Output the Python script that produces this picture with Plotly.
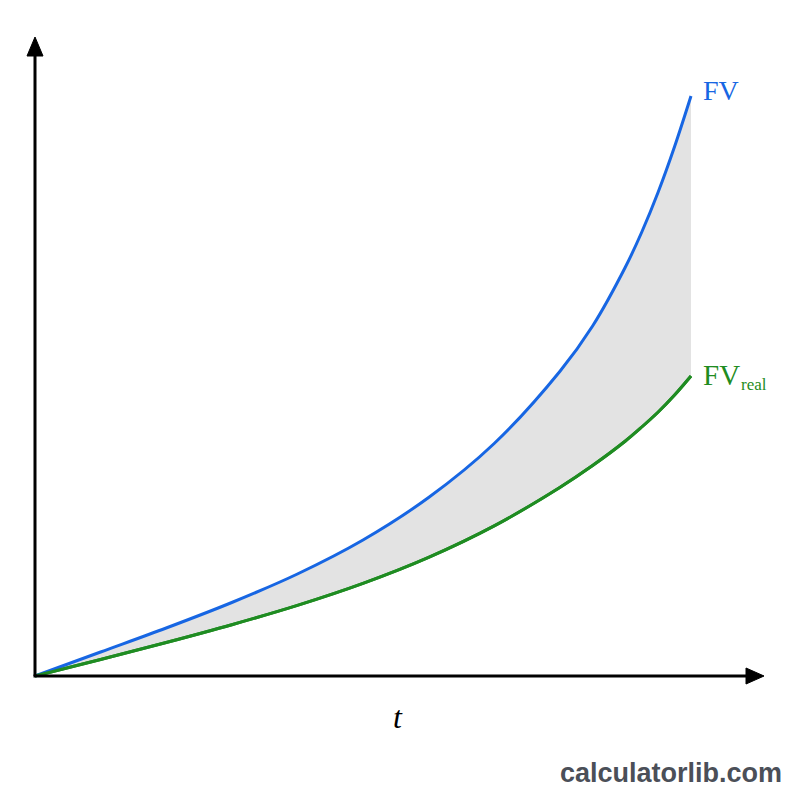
import plotly.graph_objects as go

# Data (time units, arbitrary value units)
t = [0, 1, 2, 3, 4, 5, 6, 7, 8, 8.5, 9, 9.25, 9.5, 9.75, 10]
fv = [0, 24, 48, 73.5, 102, 136, 178.5, 232.5, 304.5, 350, 409, 444, 484, 529.5, 580]
fv_real = [0, 16.5, 33.5, 51.3, 70.6, 92.6, 118.6, 150.1, 188.6, 210.5, 235, 249, 264, 281, 300]

BLUE = "#1766e3"
GREEN = "#1f8c22"
FILL = "#e3e3e3"

# pixel mapping helpers (layout only)
PX_T = 65.6          # pixels per time unit
X0, Y0 = 35, 676     # origin in pixels
def px_to_t(px):
    return (px - X0) / PX_T
def py_to_v(py):
    return Y0 - py

fig = go.Figure()
fig.add_trace(go.Scatter(x=t, y=fv_real, mode="lines", line=dict(color=GREEN, width=3, shape="spline"),
                         hoverinfo="skip", showlegend=False))
fig.add_trace(go.Scatter(x=t, y=fv, mode="lines", line=dict(color=BLUE, width=3, shape="spline"),
                         fill="tonexty", fillcolor=FILL, hoverinfo="skip", showlegend=False))
fig.add_trace(go.Scatter(x=t, y=fv_real, mode="lines", line=dict(color=GREEN, width=3, shape="spline"),
                         hoverinfo="skip", showlegend=False))

shapes = []
shapes.append(dict(type="line", x0=0, y0=0, x1=0, y1=py_to_v(52), line=dict(color="black", width=3)))
shapes.append(dict(type="line", x0=px_to_t(X0 - 1.5), y0=0, x1=px_to_t(750), y1=0, line=dict(color="black", width=3)))
def tri(pts):
    s = "M " + " L ".join(f"{px_to_t(a)},{py_to_v(b)}" for a, b in pts) + " Z"
    return dict(type="path", path=s, fillcolor="black", line=dict(color="black", width=1))
shapes.append(tri([(35, 37), (27, 56), (43, 56)]))
shapes.append(tri([(764, 676), (746, 668), (746, 684)]))

fig.update_layout(
    width=800, height=800,
    margin=dict(l=0, r=0, t=0, b=0),
    paper_bgcolor="white", plot_bgcolor="white",
    xaxis=dict(range=[px_to_t(0), px_to_t(800)], visible=False, fixedrange=True),
    yaxis=dict(range=[py_to_v(800), py_to_v(0)], visible=False, fixedrange=True),
    shapes=shapes,
    annotations=[
        dict(x=px_to_t(701), y=py_to_v(90), text="FV", showarrow=False, xanchor="left", yanchor="middle",
             font=dict(family="Liberation Serif", size=28, color=BLUE)),
        dict(x=px_to_t(701), y=py_to_v(375), text="FV", showarrow=False, xanchor="left", yanchor="middle",
             font=dict(family="Liberation Serif", size=29, color=GREEN)),
        dict(x=px_to_t(739), y=py_to_v(384), text="real", showarrow=False, xanchor="left", yanchor="middle",
             font=dict(family="Liberation Serif", size=17, color=GREEN)),
        dict(x=px_to_t(398), y=py_to_v(717), text="t", showarrow=False, xanchor="center", yanchor="middle",
             font=dict(family="Liberation Serif", size=32, color="black", style="italic")),
        dict(x=px_to_t(671), y=py_to_v(773), text="calculatorlib.com", showarrow=False,
             xanchor="center", yanchor="middle",
             font=dict(family="Liberation Sans", size=27, color="#4b4f58", weight="bold")),
    ],
)

fig.write_html("out.html")
